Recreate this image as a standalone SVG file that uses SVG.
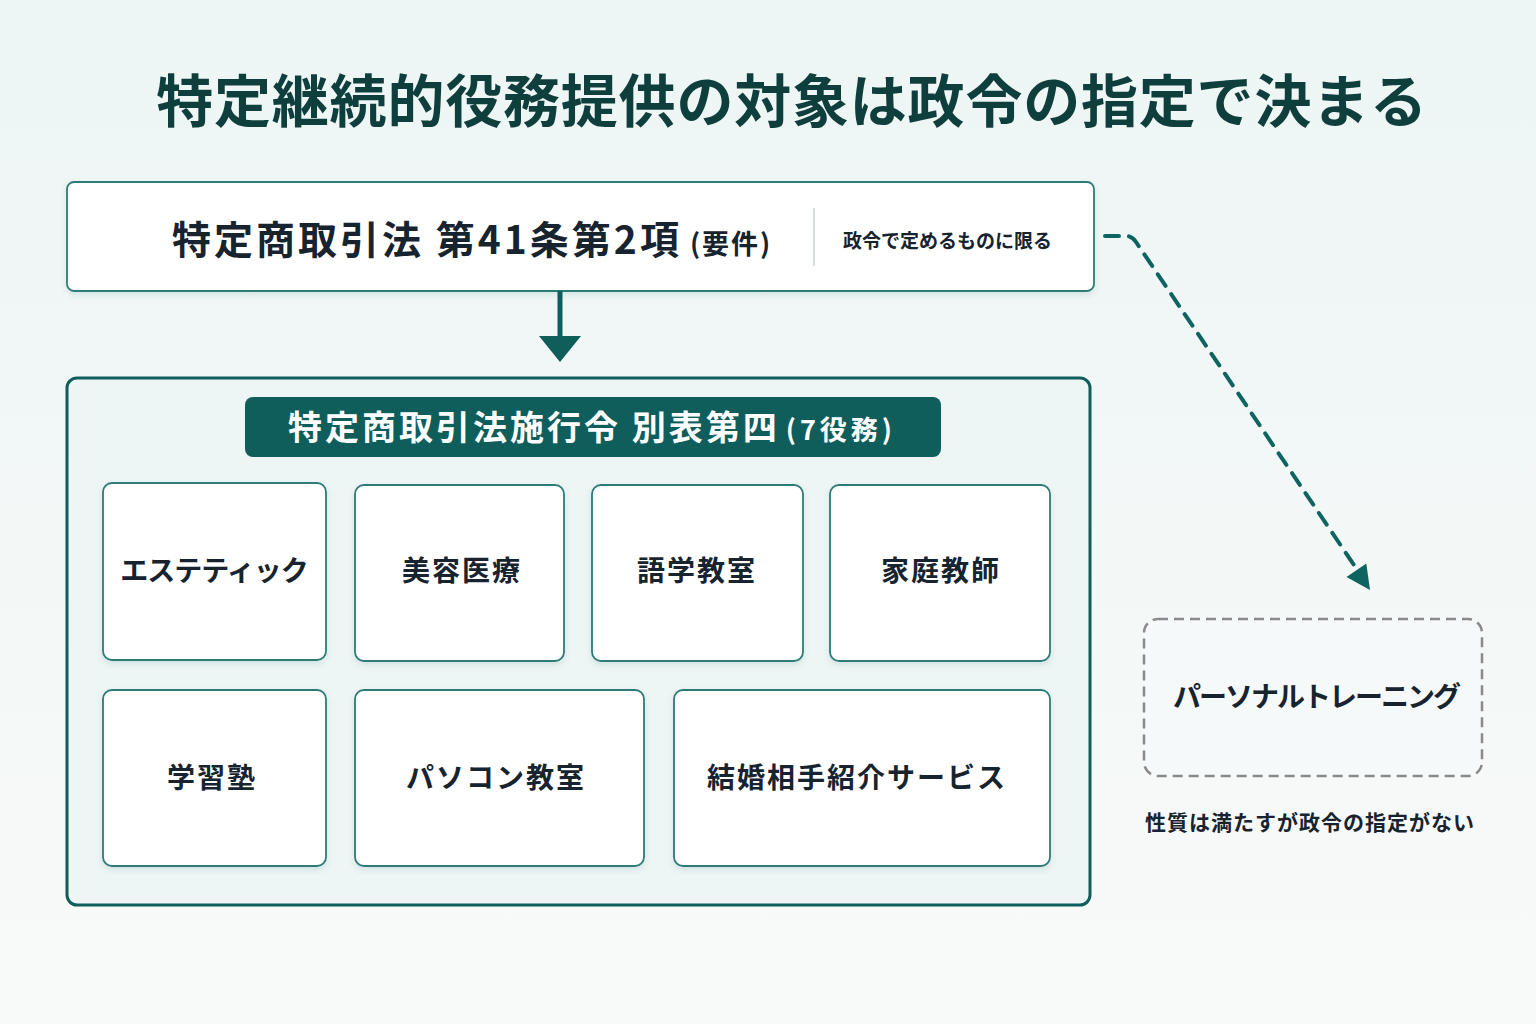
<svg xmlns="http://www.w3.org/2000/svg" width="1536" height="1024" viewBox="0 0 1536 1024">
<defs>
<linearGradient id="bg" x1="0" y1="0" x2="0" y2="1">
<stop offset="0" stop-color="#edf5f5"/>
<stop offset="1" stop-color="#f8faf9"/>
</linearGradient>
<filter id="sh" x="-10%" y="-10%" width="120%" height="130%">
<feDropShadow dx="0" dy="3" stdDeviation="3" flood-color="#0f5e5c" flood-opacity="0.12"/>
</filter>
<style>
text{font-family:"Noto Sans CJK JP","Noto Sans",sans-serif;font-weight:700;fill:#172430}
.card{fill:#ffffff;stroke:#2d7c79;stroke-width:1.8}
.ct{font-size:28px;letter-spacing:2px;text-anchor:middle}
</style>
</defs>
<rect width="1536" height="1024" fill="url(#bg)"/>
<text x="792" y="122" text-anchor="middle" font-size="57" letter-spacing="0.8" style="fill:#0e3f3c">特定継続的役務提供の対象は政令の指定で決まる</text>

<g id="law">
<rect x="67" y="182" width="1027" height="109" rx="7" fill="#ffffff" stroke="#2d7c79" stroke-width="1.8" filter="url(#sh)"/>
<text x="172" y="254" font-size="39" letter-spacing="3">特定商取引法 第41条第2項<tspan font-size="27" dx="8" letter-spacing="2">(要件)</tspan></text>
<line x1="814" y1="208" x2="814" y2="266" stroke="#c8d4d4" stroke-width="1.5"/>
<text x="843" y="248" font-size="19">政令で定めるものに限る</text>
</g>

<g id="connectors">
<line x1="560" y1="291" x2="560" y2="337" stroke="#0f5e5c" stroke-width="5"/>
<path d="M539,336 L581,336 L560,362 z" fill="#0f5e5c"/>
<path d="M1105,236 L1126,236 Q1132,236 1136,242 L1356,568" fill="none" stroke="#0f6461" stroke-width="4" stroke-dasharray="14 10" stroke-linecap="round"/>
<path d="M1370,590 L1346.5,577 L1366.3,563.4 z" fill="#0f6461"/>
</g>

<g id="ordinance">
<rect x="67" y="378" width="1023" height="527" rx="10" fill="#eef5f5" stroke="#0f5e5c" stroke-width="3"/>
<rect x="245" y="397" width="696" height="60" rx="8" fill="#0f5e5c"/>
<text x="288" y="440" font-size="34" letter-spacing="3" style="fill:#ffffff">特定商取引法施行令 別表第四<tspan font-size="27" dx="6" letter-spacing="4" style="fill:#ffffff">(7役務)</tspan></text>
</g>

<g id="s1"><rect class="card" x="103" y="483" width="223" height="177" rx="9" filter="url(#sh)"/><text class="ct" x="214" y="581" style="letter-spacing:-1px">エステティック</text></g>
<g id="s2"><rect class="card" x="355" y="485" width="209" height="176" rx="9" filter="url(#sh)"/><text class="ct" x="462" y="581">美容医療</text></g>
<g id="s3"><rect class="card" x="592" y="485" width="211" height="176" rx="9" filter="url(#sh)"/><text class="ct" x="697" y="581">語学教室</text></g>
<g id="s4"><rect class="card" x="830" y="485" width="220" height="176" rx="9" filter="url(#sh)"/><text class="ct" x="941" y="581">家庭教師</text></g>
<g id="s5"><rect class="card" x="103" y="690" width="223" height="176" rx="9" filter="url(#sh)"/><text class="ct" x="212" y="788">学習塾</text></g>
<g id="s6"><rect class="card" x="355" y="690" width="289" height="176" rx="9" filter="url(#sh)"/><text class="ct" x="496" y="788">パソコン教室</text></g>
<g id="s7"><rect class="card" x="674" y="690" width="376" height="176" rx="9" filter="url(#sh)"/><text class="ct" x="857" y="788">結婚相手紹介サービス</text></g>

<g id="personal">
<rect x="1144" y="619" width="338" height="157" rx="14" fill="#f5f9f9" stroke="#8a8a8a" stroke-width="2.5" stroke-dasharray="10 6"/>
<text x="1316" y="707" font-size="28" text-anchor="middle" letter-spacing="-2">パーソナルトレーニング</text>
<text x="1310" y="830" font-size="21" text-anchor="middle" letter-spacing="1">性質は満たすが政令の指定がない</text>
</g>
</svg>
